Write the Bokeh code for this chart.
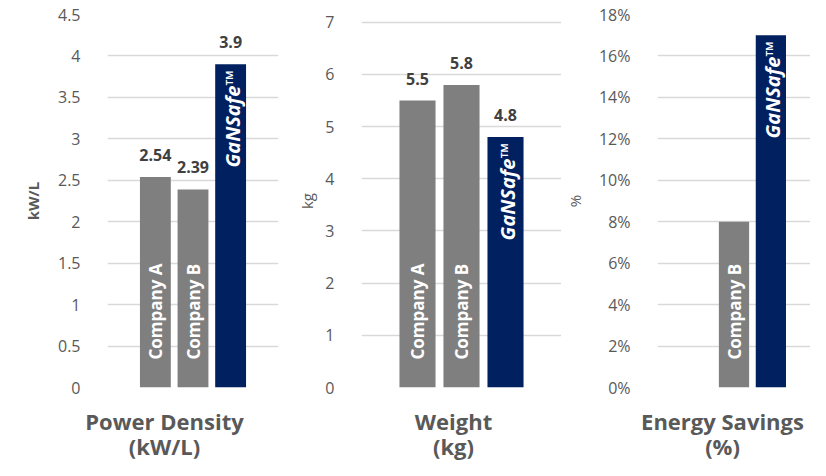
import math
from bokeh.plotting import figure
from bokeh.layouts import row, column
from bokeh.models import ColumnDataSource, FactorRange, Range1d, FixedTicker
from bokeh.core.properties import value
from bokeh.embed import file_html
from bokeh.resources import INLINE

# ---------------- data ----------------
companies = ["Company A", "Company B", "GaNSafe"]
bar_colors = ["#7f7f7f", "#7f7f7f", "#002060"]

power_density = [2.54, 2.39, 3.9]
weight = [5.5, 5.8, 4.8]
energy_savings = [float("nan"), 8, 17]

pd_ticks = [0, 0.5, 1, 1.5, 2, 2.5, 3, 3.5, 4, 4.5]
pd_tick_labels = ["0", "0.5", "1", "1.5", "2", "2.5", "3", "3.5", "4", "4.5"]
wt_ticks = [0, 1, 2, 3, 4, 5, 6, 7]
wt_tick_labels = ["0", "1", "2", "3", "4", "5", "6", "7"]
es_ticks = [0, 2, 4, 6, 8, 10, 12, 14, 16, 18]
es_tick_labels = ["0%", "2%", "4%", "6%", "8%", "10%", "12%", "14%", "16%", "18%"]

panel_titles = [("Power Density", "(kW/L)"), ("Weight", "(kg)"), ("Energy Savings", "(%)")]
y_titles = ["kW/L", "kg", "%"]

FONT = "Open Sans"
GRAY_TXT = "#595959"
ROW_H = 405
TOP = 14
BOTTOM = 18


def make_panel(vals, ticks, tick_labels, y_end, ytitle, show_values,
               width, b_left, b_right, pad, ylab_standoff, ytitle_bold):
    p = figure(x_range=FactorRange(*companies, range_padding=pad,
                                   range_padding_units="percent"),
               y_range=Range1d(0, y_end),
               width=width, height=ROW_H,
               min_border_left=b_left, min_border_right=b_right,
               min_border_top=TOP, min_border_bottom=BOTTOM,
               toolbar_location=None, output_backend="svg",
               background_fill_color="white", border_fill_color="white")
    p.outline_line_color = None
    p.xgrid.grid_line_color = None
    p.ygrid.grid_line_color = "#d9d9d9"
    p.ygrid.grid_line_width = 1.6
    p.xaxis.visible = False

    ax = p.yaxis[0]
    ax.ticker = FixedTicker(ticks=ticks)
    ax.major_label_overrides = dict(zip(ticks, tick_labels))
    ax.axis_line_color = None
    ax.major_tick_line_color = None
    ax.minor_tick_line_color = None
    ax.major_label_standoff = 21
    ax.major_label_text_font = FONT
    ax.major_label_text_font_size = "16px"
    ax.major_label_text_color = GRAY_TXT
    ax.axis_label = ytitle
    ax.axis_label_text_font = FONT
    ax.axis_label_text_font_size = "15px"
    ax.axis_label_text_font_style = "bold" if ytitle_bold else "normal"
    ax.axis_label_text_color = GRAY_TXT
    ax.axis_label_standoff = ylab_standoff

    src = ColumnDataSource(dict(x=companies, top=vals, color=bar_colors))
    p.vbar(x="x", top="top", width=0.82, fill_color="color", line_color=None,
           source=src)

    # company names inside the grey bars
    name_x = [c for c, v in zip(companies[:2], vals[:2]) if not math.isnan(v)]
    name_src = ColumnDataSource(dict(x=name_x, y=[0] * len(name_x), t=name_x))
    p.text(x="x", y="y", text="t", source=name_src, angle=math.pi / 2,
           text_align="left", text_baseline="middle", y_offset=-28,
           text_color="white", text_font=value(FONT), text_font_style="bold",
           text_font_size="17px")

    # GaNSafe logo text inside the navy bar
    logo_src = ColumnDataSource(dict(x=[companies[2]], y=[vals[2]], t=["GaNSafe\u2122"]))
    p.text(x="x", y="y", text="t", source=logo_src, angle=math.pi / 2,
           text_align="right", text_baseline="middle", y_offset=6, x_offset=2,
           text_color="white", text_font=value(FONT),
           text_font_style="bold italic", text_font_size="20px")

    if show_values:
        lab_src = ColumnDataSource(dict(x=companies, y=vals,
                                        t=[f"{v:g}" for v in vals]))
        p.text(x="x", y="y", text="t", source=lab_src, text_align="center",
               text_baseline="middle", y_offset=-22, text_color="#404040",
               text_font=value(FONT), text_font_style="bold",
               text_font_size="16px")
    return p


p1 = make_panel(power_density, pd_ticks, pd_tick_labels, 4.5, y_titles[0], True,
                286, 107, 8, 0.515, 12, True)
p2 = make_panel(weight, wt_ticks, wt_tick_labels, 7.15, y_titles[1], True,
                275, 75, 0, 0.515, 5, False)
p3 = make_panel(energy_savings, es_ticks, es_tick_labels, 18, y_titles[2], False,
                249, 86, 0, 0.383, 11, False)

# strip holding the category titles under each panel
STRIP_W, STRIP_H = 810, 55
strip = figure(width=STRIP_W, height=STRIP_H, x_range=Range1d(0, STRIP_W),
               y_range=Range1d(STRIP_H, 0), min_border=0,
               toolbar_location=None, output_backend="svg")
strip.axis.visible = False
strip.grid.visible = False
strip.outline_line_color = None
title_x = [164, 453, 722]
line_y = [15, 40]
tx, ty, tt = [], [], []
for cx, lines in zip(title_x, panel_titles):
    for ly, line in zip(line_y, lines):
        tx.append(cx)
        ty.append(ly)
        tt.append(line)
strip.text(x=tx, y=ty, text=tt, text_align="center", text_baseline="middle",
           text_font=value(FONT), text_font_size="22px", text_font_style="bold",
           text_color=GRAY_TXT)

layout = column(row(p1, p2, p3, spacing=0), strip, spacing=0)
open("out.html", "w").write(file_html(layout, INLINE))
